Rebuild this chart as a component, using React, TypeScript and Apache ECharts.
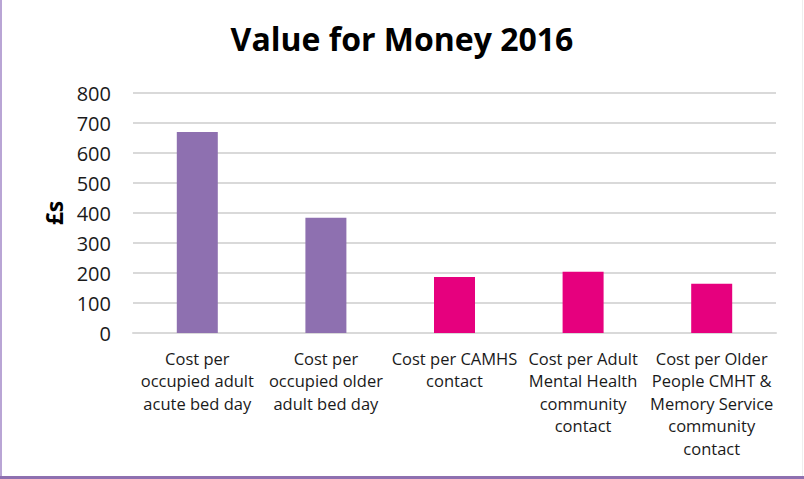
import React, { useEffect, useRef } from "react";
import * as echarts from "echarts";

const title = "Value for Money 2016";
const yAxisName = "£s";
const categories = [
  "Cost per\noccupied adult\nacute bed day",
  "Cost per\noccupied older\nadult bed day",
  "Cost per CAMHS\ncontact",
  "Cost per Adult\nMental Health\ncommunity\ncontact",
  "Cost per Older\nPeople CMHT &\nMemory Service\ncommunity\ncontact",
];
const values = [670, 384, 187, 204, 164];
const barColors = ["#8E70B0", "#8E70B0", "#E6007E", "#E6007E", "#E6007E"];
const yMin = 0;
const yMax = 800;
const yInterval = 100;

const FONT = "'Open Sans', sans-serif";

export default function App() {
  const ref = useRef<HTMLDivElement>(null);
  useEffect(() => {
    if (!ref.current) return;
    const chart = echarts.init(ref.current, null, { renderer: "svg" });
    chart.setOption({
      animation: false,
      backgroundColor: "#ffffff",
      title: {
        text: title,
        left: "center",
        top: 17,
        textStyle: { fontFamily: FONT, fontSize: 32, fontWeight: "bold", color: "#000000" },
      },
      grid: { left: 133, right: 28, top: 93, bottom: 146, containLabel: false },
      xAxis: {
        type: "category",
        data: categories,
        axisLine: { show: true, lineStyle: { color: "#D9D9D9", width: 2 } },
        axisTick: { show: false },
        axisLabel: {
          interval: 0,
          margin: 14,
          fontFamily: FONT,
          fontSize: 16.5,
          lineHeight: 22.5,
          color: "#1a1a1a",
        },
      },
      yAxis: {
        type: "value",
        min: yMin,
        max: yMax,
        interval: yInterval,
        name: yAxisName,
        nameLocation: "middle",
        nameGap: 66,
        nameRotate: 90,
        nameTextStyle: { fontFamily: FONT, fontSize: 23, fontWeight: "bold", color: "#000000" },
        axisLine: { show: false },
        axisTick: { show: false },
        axisLabel: { fontFamily: FONT, fontSize: 20, color: "#1a1a1a", margin: 22 },
        splitLine: { lineStyle: { color: "#D9D9D9", width: 2 } },
      },
      series: [
        {
          type: "bar",
          barWidth: 41,
          data: values.map((v, i) => ({ value: v, itemStyle: { color: barColors[i] } })),
        },
      ],
      graphic: [
        { type: "rect", shape: { x: 0, y: 0, width: 2, height: 479 }, style: { fill: "#B9A5D5" } },
        { type: "rect", shape: { x: 0, y: 476, width: 804, height: 3 }, style: { fill: "#8E70B0" } },
        { type: "rect", shape: { x: 802, y: 0, width: 1, height: 476 }, style: { fill: "#EEEEEE" } },
      ],
    });
    return () => chart.dispose();
  }, []);
  return (
    <div
      ref={ref}
      style={{ position: "fixed", left: 0, top: 0, width: 804, height: 479 }}
    />
  );
}
